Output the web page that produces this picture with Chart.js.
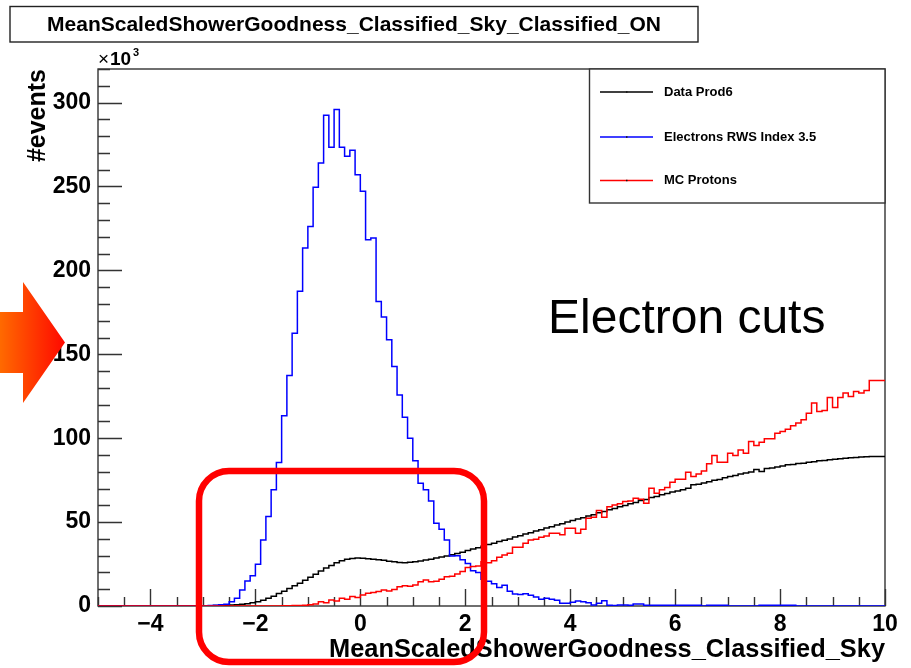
<!DOCTYPE html>
<html>
<head>
<meta charset="utf-8">
<title>MeanScaledShowerGoodness_Classified_Sky_Classified_ON</title>
<script src="https://cdn.jsdelivr.net/npm/chart.js@4.4.1/dist/chart.umd.min.js"></script>
<style>
  html, body { margin: 0; padding: 0; background: #ffffff; }
  #wrap { width: 911px; height: 668px; position: relative; }
  canvas { display: block; }
</style>
</head>
<body>
<div id="wrap"><canvas id="chart" width="911" height="668"></canvas></div>
<script>
// Histogram binning: 150 bins of width 0.1 covering [-5, 10]
const binLow = -5.0;
const binWidth = 0.1;
const binCount = 150;

// Bin contents, in units of 10^3 events
const dataProd6 = [
  0,0,0,0,0,0,0,0,0,0, 0,0,0,0,0,0,0,0,0,0, 0,0,
  0.2,0.3,0.4,0.5,0.6,0.8,1.0,1.4,1.9,2.6,
  3.4,4.6,5.8,7.4,8.8,10.5,12.1,13.6,15.4,17.2,
  18.9,20.8,22.6,24.2,25.8,27.0,27.8,28.3,28.6,28.5,
  28.2,27.8,27.5,27.2,26.6,26.3,25.9,25.8,26.1,26.4,
  26.8,27.4,27.9,28.6,29.2,29.8,30.6,31.3,32.0,33.0,
  33.9,34.7,35.6,36.6,37.4,38.4,39.2,40.0,41.1,41.9,
  42.9,43.6,44.7,45.4,46.5,47.2,48.3,49.0,50.1,50.9,
  51.9,52.6,53.7,54.4,55.6,56.3,57.4,58.1,59.2,59.9,
  61.0,61.7,62.8,63.4,64.6,65.2,66.3,67.0,68.0,68.6,
  69.2,70.2,72.2,72.6,73.3,74.0,74.9,75.4,76.4,77.2,
  77.7,78.6,79.2,79.8,81.3,80.2,81.9,82.3,82.9,83.4,
  84.1,84.3,84.9,85.1,85.7,86.0,86.5,86.7,87.2,87.4,
  87.8,88.0,88.4,88.5,88.8,88.9,89.1,89.1
];

const electronsRWS = [
  0,0,0,0,0,0,0,0,0,0, 0,0,0,0,0,0,0,0,0,0, 0,0,
  0.3,0.4,0.8,1.0,2.6,4.6,9.5,14.9,18.1,24.9,
  39.4,53.3,69.2,85.5,113.3,137.4,162.6,187.5,213.3,226.2,
  249.5,264.0,292.4,273.4,295.8,273.4,268.0,271.6,257.0,247.1,
  218.3,219.3,181.5,172.2,158.6,142.7,125.8,112.5,100.0,86.5,
  73.2,69.2,62.6,49.3,45.7,39.4,29.8,30.0,27.5,25.4,
  21.0,20.0,16.0,14.8,13.3,11.0,12.3,8.8,7.2,6.8,
  7.3,6.4,5.4,4.0,4.6,4.0,3.4,1.6,1.6,2.2,
  3.0,2.6,2.0,0.6,1.6,3.2,0.4,0.3,0.6,0.6,
  0.5,1.2,1.2,0.4,0.5,0.5,0.5,0.4,0.5,0.5,
  0.4,0.5,0.5,0.4,0,0.4,0.4,0.4,0.4,0,
  0,0,0,0,0,0.4,0.4,0.4,0.4,0.4,
  0.4,0.4,0,0,0,0,0,0,0,0,
  0,0,0,0,0,0,0,0
];

const mcProtons = [
  0,0,0,0,0,0,0,0,0,0, 0,0,0,0,0,0,0,0,0,0,
  0,0,0,0,0,0,0,0,0,0, 0,0,0,0,0,0,
  0.2,0.2,0.3,0.3,0.5,0.8,1.2,2.6,2.0,3.6,
  3.0,4.6,4.0,5.6,5.0,6.6,7.6,8.0,8.6,9.5,
  9.0,9.8,11.5,12.0,11.8,12.5,14.5,15.5,14.5,14.8,
  16.0,17.5,17.8,19.0,20.5,22.9,23.5,23.8,26.4,25.8,
  27.0,29.0,30.4,31.4,35.0,35.0,37.4,39.4,39.8,41.0,
  41.7,43.4,43.4,42.4,46.3,46.3,43.4,45.7,52.3,52.9,
  56.9,52.9,59.2,60.2,60.9,62.2,62.6,64.2,63.6,61.3,
  70.2,67.2,69.2,70.6,73.8,75.5,75.5,79.7,77.1,78.7,
  80.5,84.7,89.7,85.7,85.7,91.0,89.7,93.0,91.0,98.0,
  95.6,97.6,99.6,99.6,103.0,104.0,105.4,107.4,109.0,111.0,
  114.9,120.9,115.9,116.5,124.2,118.3,124.2,126.9,124.8,127.8,
  126.9,128.4,134.4,134.4
];

const seriesLabels = ['Data Prod6', 'Electrons RWS Index 3.5', 'MC Protons'];
const xTickValues = [-4, -2, 0, 2, 4, 6, 8, 10];
const yTickValues = [0, 50, 100, 150, 200, 250, 300];
const xRange = [-5, 10];
const yRange = [0, 320];

const plotTitle = 'MeanScaledShowerGoodness_Classified_Sky_Classified_ON';
const xTitle = 'MeanScaledShowerGoodness_Classified_Sky';
const yTitle = '#events';
const noteText = 'Electron cuts';

const FONT = "'Liberation Sans', Arial, Helvetica, sans-serif";

// Turn bin contents into step-outline points (left edge of every bin + the upper edge)
function histPoints(values) {
  const pts = values.map((v, i) => ({ x: Math.round((binLow + i * binWidth) * 10) / 10, y: v }));
  pts.push({ x: Math.round((binLow + values.length * binWidth) * 10) / 10, y: values[values.length - 1] });
  return pts;
}

// Frame and inward ticks (major + minor); histograms are drawn over them
const frameTicks = {
  id: 'frameTicks',
  beforeDatasetsDraw(chart) {
    const { ctx, chartArea: a, scales: { x, y } } = chart;
    ctx.save();
    ctx.strokeStyle = '#333333';
    ctx.lineWidth = 1.4;
    ctx.beginPath();
    for (let v = yRange[0]; v <= yRange[1] + 1e-9; v += 10) {
      const py = Math.round(y.getPixelForValue(v)) + 0.5;
      const len = (v % 50 === 0) ? 24 : 12;
      ctx.moveTo(a.left, py); ctx.lineTo(a.left + len, py);
    }
    for (let k = 0; k <= 30; k++) {
      const v = xRange[0] + k * 0.5;
      const px = Math.round(x.getPixelForValue(v)) + 0.5;
      const len = (Math.abs(v % 2) < 1e-9) ? 17 : 9;
      ctx.moveTo(px, a.bottom); ctx.lineTo(px, a.bottom - len);
    }
    ctx.stroke();
    ctx.strokeRect(a.left, a.top, a.right - a.left, a.bottom - a.top);
    ctx.restore();
  }
};

// Title pave, axis titles, exponent, legend and the annotations
const decorations = {
  id: 'decorations',
  afterDraw(chart) {
    const { ctx, chartArea: a } = chart;
    ctx.save();

    // title pave
    ctx.strokeStyle = '#222222';
    ctx.lineWidth = 1.4;
    ctx.strokeRect(10, 6.5, 688, 35.5);
    ctx.fillStyle = '#000';
    ctx.font = 'bold 21px ' + FONT;
    ctx.textAlign = 'center';
    ctx.textBaseline = 'middle';
    ctx.fillText(plotTitle, 354, 25);

    // x axis title, right aligned at the end of the axis
    ctx.font = 'bold 25.4px ' + FONT;
    ctx.textAlign = 'right';
    ctx.textBaseline = 'alphabetic';
    ctx.fillText(xTitle, a.right, 657);

    // y axis title, rotated, aligned with the top of the axis
    ctx.save();
    ctx.font = 'bold 25px ' + FONT;
    ctx.translate(45, a.top);
    ctx.rotate(-Math.PI / 2);
    ctx.textAlign = 'right';
    ctx.fillText(yTitle, 0, 0);
    ctx.restore();

    // axis exponent  x10^3
    ctx.textAlign = 'left';
    ctx.font = '19px ' + FONT;
    ctx.fillText('\u00d7', a.left, 65);
    ctx.font = 'bold 19px ' + FONT;
    ctx.fillText('10', a.left + 12, 65);
    ctx.font = 'bold 11px ' + FONT;
    ctx.fillText('3', a.left + 35, 56);

    // legend
    const lx = 589.5, ly = a.top, lw = a.right - 589.5, lh = 134;
    ctx.fillStyle = '#ffffff';
    ctx.fillRect(lx, ly, lw, lh);
    ctx.strokeStyle = '#333333';
    ctx.lineWidth = 1.4;
    ctx.strokeRect(lx, ly, lw, lh);
    const rows = [92, 137, 180.5];
    chart.data.datasets.forEach((ds, i) => {
      const r = rows[i];
      ctx.strokeStyle = ds.borderColor;
      ctx.lineWidth = 1.5;
      ctx.beginPath();
      ctx.moveTo(600, r); ctx.lineTo(653, r);
      ctx.stroke();
      ctx.fillStyle = '#111';
      ctx.fillRect(626, r - 0.75, 1.5, 1.5);
      ctx.fillStyle = '#000';
      ctx.font = 'bold 13px ' + FONT;
      ctx.textBaseline = 'middle';
      ctx.fillText(ds.label, 664, r);
    });

    // annotation text
    ctx.fillStyle = '#000';
    ctx.font = '48px ' + FONT;
    ctx.textBaseline = 'alphabetic';
    ctx.fillText(noteText, 548, 333);

    // red rounded box around the cut region
    ctx.strokeStyle = '#ff0000';
    ctx.lineWidth = 6.5;
    const bx = 199, by = 471, bw = 285, bh = 191, rr = 30;
    ctx.beginPath();
    ctx.moveTo(bx + rr, by);
    ctx.lineTo(bx + bw - rr, by);
    ctx.arcTo(bx + bw, by, bx + bw, by + rr, rr);
    ctx.lineTo(bx + bw, by + bh - rr);
    ctx.arcTo(bx + bw, by + bh, bx + bw - rr, by + bh, rr);
    ctx.lineTo(bx + rr, by + bh);
    ctx.arcTo(bx, by + bh, bx, by + bh - rr, rr);
    ctx.lineTo(bx, by + rr);
    ctx.arcTo(bx, by, bx + rr, by, rr);
    ctx.closePath();
    ctx.stroke();

    // orange arrow pointing at the axis
    const g = ctx.createLinearGradient(0, 0, 65, 0);
    g.addColorStop(0, '#ff6a00');
    g.addColorStop(1, '#ff0800');
    ctx.fillStyle = g;
    ctx.beginPath();
    ctx.moveTo(0, 312);
    ctx.lineTo(23, 312);
    ctx.lineTo(23, 282);
    ctx.lineTo(65, 342.5);
    ctx.lineTo(23, 403);
    ctx.lineTo(23, 373);
    ctx.lineTo(0, 373);
    ctx.closePath();
    ctx.fill();

    ctx.restore();
  }
};

const tickFont = { family: FONT, size: 23, weight: 'bold' };

new Chart(document.getElementById('chart'), {
  type: 'line',
  data: {
    datasets: [
      { label: seriesLabels[0], data: histPoints(dataProd6), borderColor: '#000000', order: 2 },
      { label: seriesLabels[1], data: histPoints(electronsRWS), borderColor: '#0000ff', order: 1 },
      { label: seriesLabels[2], data: histPoints(mcProtons), borderColor: '#ff0000', order: 0 }
    ].map(d => Object.assign(d, {
      stepped: 'after', borderWidth: 1.5, pointRadius: 0, fill: false, tension: 0
    }))
  },
  options: {
    responsive: false,
    animation: false,
    devicePixelRatio: 1,
    parsing: false,
    layout: { padding: { left: 0, right: 26, top: 69, bottom: 0 } },
    plugins: { legend: { display: false }, tooltip: { enabled: false }, title: { display: false } },
    scales: {
      x: {
        type: 'linear', min: xRange[0], max: xRange[1], position: 'bottom',
        grid: { display: false, drawTicks: false }, border: { display: false },
        afterBuildTicks: s => { s.ticks = xTickValues.map(v => ({ value: v })); },
        afterFit: s => { s.height = 62; },
        ticks: {
          font: tickFont, color: '#000', padding: 5, maxRotation: 0, autoSkip: false,
          callback: v => String(v).replace('-', '\u2212')
        }
      },
      y: {
        type: 'linear', min: yRange[0], max: yRange[1], position: 'left',
        grid: { display: false, drawTicks: false }, border: { display: false },
        afterBuildTicks: s => { s.ticks = yTickValues.map(v => ({ value: v })); },
        afterFit: s => { s.width = 98; },
        ticks: { font: tickFont, color: '#000', padding: 7, autoSkip: false }
      }
    }
  },
  plugins: [frameTicks, decorations]
});
</script>
</body>
</html>
